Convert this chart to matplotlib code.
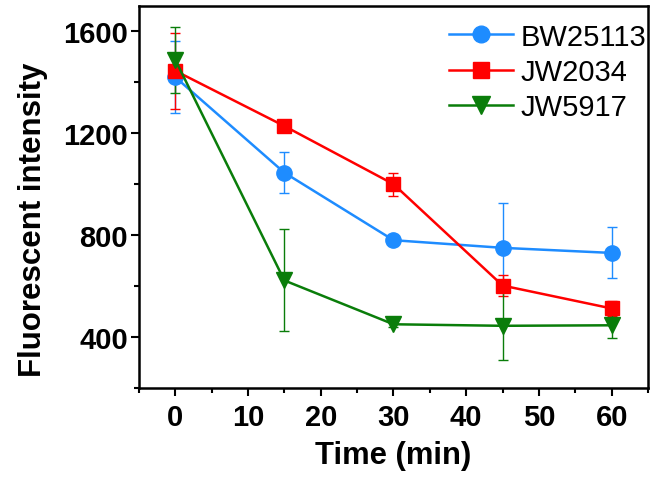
import matplotlib
matplotlib.use("Agg")
import matplotlib.pyplot as plt
from matplotlib.ticker import MultipleLocator
from matplotlib.lines import Line2D

time = [0, 15, 30, 45, 60]
bw25113 = [1420, 1045, 780, 750, 730]
bw25113_err = [140, 80, 15, 175, 100]
jw2034 = [1445, 1228, 1000, 602, 512]
jw2034_err = [150, 15, 45, 40, 30]
jw5917 = [1488, 622, 450, 444, 446]
jw5917_err = [130, 200, 10, 135, 50]

labels = ["BW25113", "JW2034", "JW5917"]
colors = ["#1E8CFF", "#FF0000", "#0A7D0A"]
markers = ["o", "s", "v"]

plt.rcParams['font.family'] = ['Liberation Sans', 'DejaVu Sans']

fig = plt.figure(figsize=(6.52, 4.85), dpi=100)
ax = fig.add_axes([0.213, 0.198, 0.781, 0.788])

series = [(bw25113, bw25113_err), (jw2034, jw2034_err), (jw5917, jw5917_err)]
handles = []
for (vals, errs), lab, c, m in zip(series, labels, colors, markers):
    ms = 12 if m == "v" else (11 if m == "o" else 10)
    ax.errorbar(time, vals, yerr=errs, color=c, marker=m, markersize=ms,
                linewidth=1.8, elinewidth=1.0, capsize=3.5, capthick=1.0)
    handles.append(Line2D([], [], color=c, marker=m, markersize=ms + 1,
                          linewidth=1.8, label=lab))

ax.set_xlim(-5, 65)
ax.set_ylim(200, 1700)
ax.xaxis.set_major_locator(MultipleLocator(10))
ax.xaxis.set_minor_locator(MultipleLocator(5))
ax.yaxis.set_major_locator(MultipleLocator(400))
ax.yaxis.set_minor_locator(MultipleLocator(200))
ax.tick_params(which='major', direction='out', length=6, width=1.5, labelsize=21)
ax.tick_params(axis='y', which='major', pad=2)
ax.tick_params(axis='x', which='major', pad=5)
ax.tick_params(which='minor', direction='out', length=3.5, width=1.5)
for lbl in ax.get_xticklabels() + ax.get_yticklabels():
    lbl.set_fontweight('bold')
for sp in ax.spines.values():
    sp.set_linewidth(1.8)

ax.set_xlabel("Time (min)", fontsize=22.3, fontweight='bold', labelpad=6)
ax.set_ylabel("Fluorescent intensity", fontsize=22.5, fontweight='bold')
ax.yaxis.set_label_coords(-0.179, 0.442)

leg = ax.legend(handles=handles, loc='upper right', bbox_to_anchor=(1.01, 0.975),
                frameon=False, fontsize=21,
                handlelength=2.2, handletextpad=0.25, labelspacing=0.25,
                borderaxespad=0.05, borderpad=0.2)

fig.savefig("out.png", dpi=100)
